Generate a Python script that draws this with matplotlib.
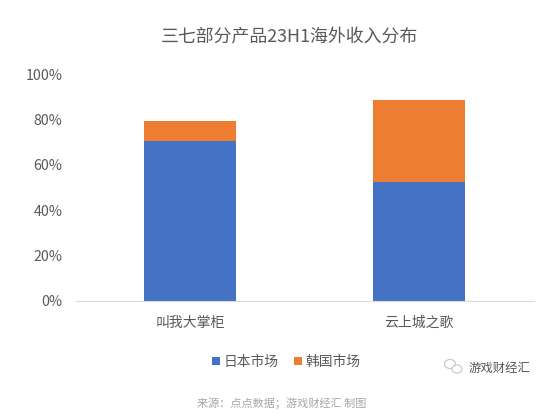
import matplotlib
matplotlib.use('Agg')
import matplotlib.pyplot as plt
from matplotlib.patches import Rectangle, Ellipse

plt.rcParams['font.family'] = ['Noto Sans CJK SC', 'DejaVu Sans']

products = ['叫我大掌柜', '云上城之歌']
japan = [70.5, 52.5]
korea = [9, 36]
yticks = [0, 20, 40, 60, 80, 100]

fig = plt.figure(figsize=(5.5, 4.2), dpi=100)
ax = fig.add_axes([75.5 / 550, 1 - 301 / 420, 458 / 550, 227 / 420])

x = [0, 1]
ax.bar(x, japan, width=0.4, color='#4472C4', label='日本市场')
ax.bar(x, korea, width=0.4, bottom=japan, color='#ED7D31', label='韩国市场')

ax.set_xlim(-0.5, 1.5)
ax.set_ylim(0, 100)
ax.set_xticks(x)
ax.set_xticklabels(products, fontsize=10, color='#595959')
ax.set_yticks(yticks)
ax.set_yticklabels([f'{v}%' for v in yticks], fontsize=10.2, color='#595959')
for label in ax.get_yticklabels():
    label.set_va('center_baseline')
ax.tick_params(length=0)
ax.tick_params(axis='x', pad=10.5)
ax.tick_params(axis='y', pad=9.5)
for side in ['top', 'right', 'left']:
    ax.spines[side].set_visible(False)
ax.spines['bottom'].set_color('#D9D9D9')

# overlay in picture pixels for title, legend and the footer bits
over = fig.add_axes([0, 0, 1, 1])
over.set_xlim(0, 550)
over.set_ylim(420, 0)
over.axis('off')

over.text(289.5, 37.5, '三七部分产品23H1海外收入分布', fontsize=12.9,
          color='#595959', ha='center', va='center')

# legend
over.add_patch(Rectangle((211.5, 357), 8, 8, color='#4472C4', lw=0))
over.text(224, 362, '日本市场', fontsize=9.9, color='#595959', va='center')
over.add_patch(Rectangle((293.5, 357), 8, 8, color='#ED7D31', lw=0))
over.text(305, 362, '韩国市场', fontsize=9.9, color='#595959', va='center')

# watermark
over.add_patch(Ellipse((450, 364), 11, 9, fc='none', ec='#C4C4C4', lw=0.8))
over.add_patch(Ellipse((457, 369), 10, 8, fc='white', ec='#C4C4C4', lw=0.8))
over.text(469, 368, '游戏财经汇', fontsize=8.9, color='#555555', va='center')

# source line
over.text(282, 403.5, '来源：点点数据；游戏财经汇 制图', fontsize=8,
          color='#A6A6A6', ha='center', va='center')

fig.savefig('out.png', dpi=100)
